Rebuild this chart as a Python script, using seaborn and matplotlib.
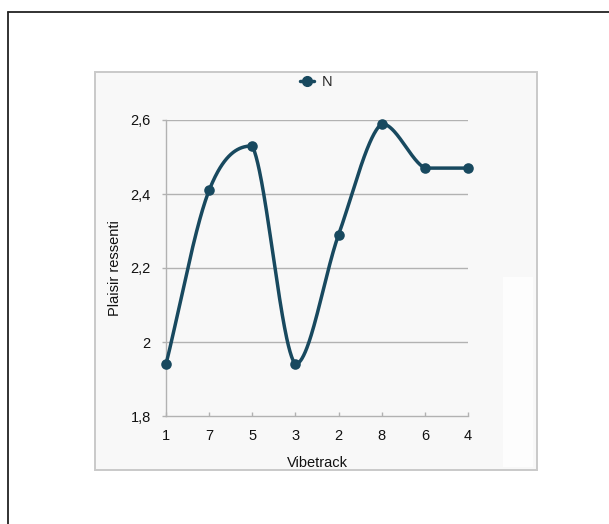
import numpy as np
import matplotlib
matplotlib.use("Agg")
import matplotlib.pyplot as plt
from matplotlib.patches import Rectangle
from matplotlib.lines import Line2D
from matplotlib.ticker import FuncFormatter
import seaborn as sns

# Data
tracks = ["1", "7", "5", "3", "2", "8", "6", "4"]
plaisir = [1.94, 2.41, 2.53, 1.94, 2.29, 2.59, 2.47, 2.47]
series_name = "N"
y_ticks = [1.8, 2.0, 2.2, 2.4, 2.6]

LINE_COLOR = "#18495f"
GRID_COLOR = "#b2b2b2"

sns.set_theme(style="white")
plt.rcParams["font.family"] = ["Liberation Sans", "DejaVu Sans"]

W, H = 609, 524
fig = plt.figure(figsize=(W / 100, H / 100), dpi=100)
fig.patch.set_facecolor("white")

# Outer page border (left and top edges)
fig.add_artist(Line2D([8 / W, 8 / W], [0, 1 - 12 / H], transform=fig.transFigure,
                      color="#222222", lw=1.3))
fig.add_artist(Line2D([8 / W, 1], [1 - 12 / H, 1 - 12 / H], transform=fig.transFigure,
                      color="#222222", lw=1.3))

# Chart frame
fig.add_artist(Rectangle((95 / W, 1 - 470 / H), (537 - 95) / W, (470 - 72) / H,
                         transform=fig.transFigure, facecolor="#f8f8f8",
                         edgecolor="#c9c9c9", lw=1.4, zorder=0))
fig.add_artist(Rectangle((503 / W, 1 - 467 / H), (533 - 503) / W, (467 - 277) / H,
                         transform=fig.transFigure, facecolor="#fdfdfd",
                         edgecolor="none", zorder=0.5))

ax = fig.add_axes([166 / W, 1 - 416 / H, (468 - 166) / W, (416 - 120) / H])
ax.set_facecolor("none")

x = np.arange(len(tracks), dtype=float)
y = np.array(plaisir)
ax.set_xlim(0, len(tracks) - 1)
ax.set_ylim(y_ticks[0], y_ticks[-1])

# Smoothed curve: Catmull-Rom Bezier segments, control points kept
# inside each segment's vertical range so the curve never overshoots.
n = len(x)
P = np.column_stack([x, y])
out_ctrl = np.zeros_like(P)
in_ctrl = np.zeros_like(P)
for i in range(n):
    if i == 0:
        T = (P[1] - P[0]) * 2
    elif i == n - 1:
        T = (P[-1] - P[-2]) * 2
    else:
        T = P[i + 1] - P[i - 1]
    in_ctrl[i] = P[i] - T / 6
    out_ctrl[i] = P[i] + T / 6
for i in range(n - 1):
    lo, hi = min(y[i], y[i + 1]), max(y[i], y[i + 1])
    out_ctrl[i, 1] = np.clip(out_ctrl[i, 1], lo, hi)
    in_ctrl[i + 1, 1] = np.clip(in_ctrl[i + 1, 1], lo, hi)
t = np.linspace(0, 1, 80)[:, None]
pts = []
for i in range(n - 1):
    b = ((1 - t) ** 3 * P[i] + 3 * (1 - t) ** 2 * t * out_ctrl[i]
         + 3 * (1 - t) * t ** 2 * in_ctrl[i + 1] + t ** 3 * P[i + 1])
    pts.append(b if i == 0 else b[1:])
curve = np.vstack(pts)
ax.plot(curve[:, 0], curve[:, 1], color=LINE_COLOR, lw=2.5, clip_on=False,
        solid_capstyle="round", solid_joinstyle="round", zorder=3)

sns.scatterplot(x=x, y=y, ax=ax, color=LINE_COLOR, s=58, edgecolor=LINE_COLOR,
                linewidth=0, clip_on=False, zorder=4, legend=False)

# Grid and axes styling
for v in y_ticks[1:]:
    ax.axhline(v, color=GRID_COLOR, lw=1.0, zorder=1)
for side in ["top", "right"]:
    ax.spines[side].set_visible(False)
for side in ["left", "bottom"]:
    ax.spines[side].set_color(GRID_COLOR)
    ax.spines[side].set_linewidth(1.0)

ax.set_xticks(x)
ax.set_xticklabels(tracks)
ax.set_yticks(y_ticks)
ax.yaxis.set_major_formatter(FuncFormatter(
    lambda v, _: (f"{v:.1f}".rstrip("0").rstrip(".")).replace(".", ",")))
ax.tick_params(axis="x", direction="in", length=3, width=1, color=GRID_COLOR,
               pad=9.5, labelsize=10.5, labelcolor="#111111", bottom=True)
ax.tick_params(axis="y", direction="out", length=3, width=1, color=GRID_COLOR,
               pad=8, labelsize=10.5, labelcolor="#111111", left=True)

ax.set_xlabel("Vibetrack", fontsize=10.5, color="#111111", labelpad=9.5)
ax.set_ylabel("Plaisir ressenti", fontsize=10.5, color="#111111", labelpad=6)

handle = Line2D([], [], color=LINE_COLOR, lw=2.5, marker="o", markersize=7)
fig.legend([handle], [series_name], loc="center", bbox_to_anchor=(316 / W, 1 - 82 / H),
           frameon=False, fontsize=10.5, handlelength=1.0, handletextpad=0.5,
           borderaxespad=0)

fig.savefig("out.png", dpi=100)
